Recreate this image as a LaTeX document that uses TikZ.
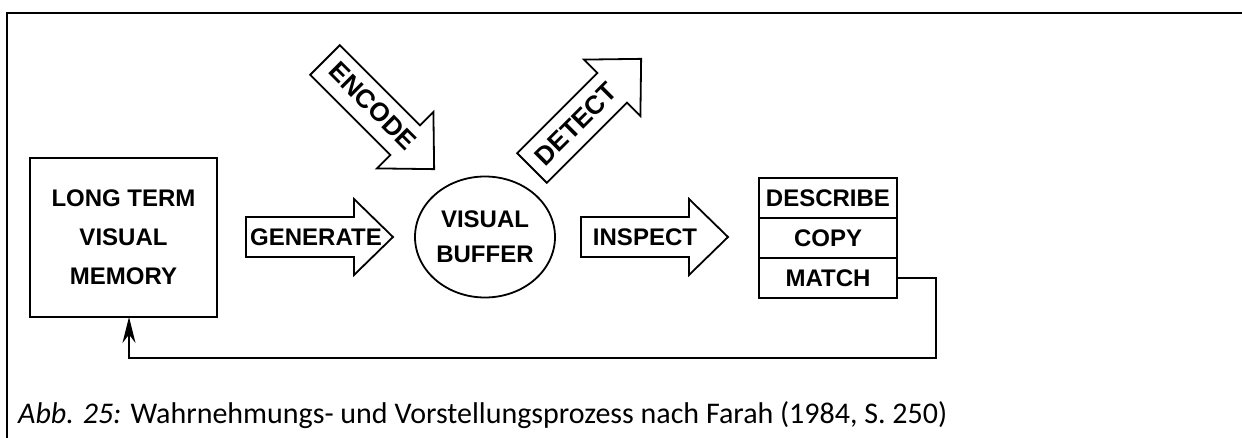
\documentclass[tikz,border=0pt]{standalone}
\usepackage{fontspec}
\setmainfont{Carlito}
\newfontfamily\boxfont{Liberation Sans}
\usetikzlibrary{arrows.meta,positioning,shapes.geometric}

\tikzset{
  blockarrow/.pic={
    \draw[line width=1.8pt, line join=miter] (0,-20) -- (108,-20) -- (108,-38) -- (147,0) -- (108,38) -- (108,20) -- (0,20) -- cycle;
  }
}

\begin{document}
\begin{tikzpicture}[x=1pt, y=-1pt, >={Stealth[length=26pt,width=13pt]},
  box/.style={draw, line width=1.8pt, align=center, inner sep=0pt, outer sep=0pt,
    font=\boxfont\bfseries\fontsize{24}{39}\selectfont},
  lbl/.style={inner sep=0pt, font=\boxfont\bfseries\fontsize{24}{29}\selectfont},
  cell/.style={box, minimum width=138pt, minimum height=40pt}]
  \useasboundingbox (0,0) rectangle (1242,438);
  \draw[line width=2pt] (7,450) -- (7,13) -- (1250,13);

  % stores
  \node[box, minimum width=187pt, minimum height=159pt] (ltm) at (123.5,237.5) {LONG TERM\\VISUAL\\MEMORY};
  \node[box, ellipse, minimum width=140pt, minimum height=121pt,
    font=\boxfont\bfseries\fontsize{24}{35}\selectfont] (buffer) at (485,237) {VISUAL\\BUFFER};
  \node[cell] (describe) at (828,198) {DESCRIBE};
  \node[cell, below=0pt of describe] (copy) {COPY};
  \node[cell, below=0pt of copy] (match) {MATCH};

  % processes
  \pic at (246,237) {blockarrow};
  \node[lbl] (generate) at (316,237) {GENERATE};
  \pic at (581,237) {blockarrow};
  \node[lbl] (inspect) at (645,237) {INSPECT};
  \pic[rotate=-45, scale=1.05] at (325,60) {blockarrow};
  \node[lbl, rotate=-45, font=\boxfont\bfseries\fontsize{26}{30}\selectfont] (encode) at (373,106) {ENCODE};
  \pic[rotate=45, scale=1.05] at (532,168) {blockarrow};
  \node[lbl, rotate=45, font=\boxfont\bfseries\fontsize{26}{30}\selectfont] (detect) at (576,124) {DETECT};

  % feedback
  \coordinate (fbr) at (936,358);
  \coordinate (fbl) at (129,358);
  \draw[line width=1.8pt, ->] (match.east) -| (fbr) -- (fbl) -- (fbl |- ltm.south);

  \node[anchor=base west, inner sep=0pt, font=\fontsize{30}{36}\selectfont] (caption) at (18,423)
    {\textit{Abb. 25:} Wahrnehmungs- und Vorstellungsprozess nach Farah (1984, S. 250)};
\end{tikzpicture}
\end{document}
